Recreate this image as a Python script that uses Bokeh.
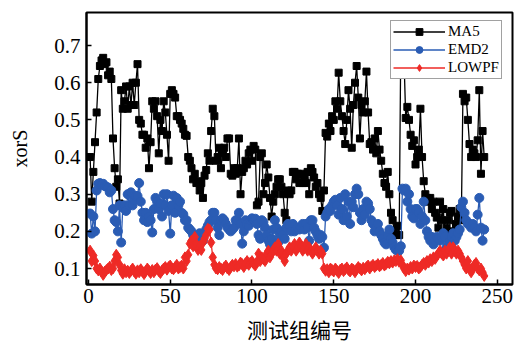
from bokeh.plotting import figure
from bokeh.models import FixedTicker, Range1d
from bokeh.embed import file_html
from bokeh.resources import INLINE

x_index = list(range(1, 243))

ma5 = [
    0.40, 0.28, 0.36, 0.44, 0.52, 0.61, 0.645, 0.66, 0.667, 0.65,
    0.655, 0.62, 0.63, 0.61, 0.45, 0.37, 0.32, 0.34, 0.275, 0.58,
    0.53, 0.55, 0.59, 0.53, 0.59, 0.54, 0.60, 0.54, 0.60, 0.65,
    0.50, 0.49, 0.46, 0.46, 0.425, 0.45, 0.37, 0.44, 0.55, 0.53,
    0.55, 0.51, 0.41, 0.50, 0.47, 0.55, 0.52, 0.46, 0.39, 0.57,
    0.58, 0.57, 0.56, 0.51, 0.51, 0.50, 0.49, 0.476, 0.46, 0.457,
    0.40, 0.39, 0.37, 0.34, 0.355, 0.33, 0.335, 0.31, 0.33, 0.29,
    0.35, 0.365, 0.41, 0.39, 0.47, 0.53, 0.51, 0.39, 0.40, 0.425,
    0.37, 0.41, 0.425, 0.40, 0.45, 0.45, 0.355, 0.35, 0.37, 0.355,
    0.37, 0.45, 0.30, 0.36, 0.37, 0.39, 0.38, 0.41, 0.42, 0.39,
    0.43, 0.42, 0.27, 0.28, 0.40, 0.41, 0.30, 0.33, 0.38, 0.345,
    0.29, 0.24, 0.28, 0.30, 0.32, 0.34, 0.34, 0.32, 0.30, 0.25,
    0.23, 0.31, 0.30, 0.31, 0.36, 0.36, 0.34, 0.355, 0.33, 0.355,
    0.33, 0.35, 0.33, 0.36, 0.30, 0.37, 0.36, 0.345, 0.32, 0.33,
    0.30, 0.29, 0.255, 0.31, 0.465, 0.455, 0.49, 0.47, 0.51, 0.50,
    0.55, 0.53, 0.627, 0.55, 0.51, 0.47, 0.435, 0.50, 0.58, 0.53,
    0.425, 0.54, 0.60, 0.645, 0.56, 0.45, 0.54, 0.52, 0.55, 0.63,
    0.52, 0.435, 0.44, 0.42, 0.45, 0.41, 0.47, 0.42, 0.39, 0.355,
    0.33, 0.32, 0.36, 0.30, 0.25, 0.23, 0.20, 0.19, 0.215, 0.19,
    0.71, 0.73, 0.66, 0.505, 0.535, 0.50, 0.46, 0.43, 0.445, 0.38,
    0.40, 0.42, 0.53, 0.40, 0.335, 0.30, 0.29, 0.28, 0.29, 0.26,
    0.28, 0.25, 0.237, 0.21, 0.28, 0.23, 0.26, 0.194, 0.21, 0.23,
    0.25, 0.255, 0.20, 0.18, 0.22, 0.24, 0.26, 0.23, 0.57, 0.55,
    0.56, 0.50, 0.435, 0.40, 0.42, 0.41, 0.40, 0.445, 0.58, 0.355,
    0.47, 0.40,
]

emd2 = [
    0.248, 0.194, 0.24, 0.20, 0.31, 0.328, 0.33, 0.325, 0.328, 0.322,
    0.32, 0.318, 0.305, 0.31, 0.26, 0.23, 0.225, 0.20, 0.27, 0.17,
    0.264, 0.27, 0.255, 0.30, 0.27, 0.305, 0.27, 0.285, 0.295, 0.295,
    0.33, 0.28, 0.25, 0.23, 0.25, 0.225, 0.24, 0.23, 0.197, 0.26,
    0.29, 0.28, 0.26, 0.275, 0.24, 0.30, 0.27, 0.30, 0.255, 0.194,
    0.27, 0.296, 0.25, 0.29, 0.27, 0.28, 0.25, 0.246, 0.23, 0.23,
    0.21, 0.205, 0.20, 0.19, 0.185, 0.18, 0.185, 0.195, 0.18, 0.175,
    0.195, 0.205, 0.215, 0.225, 0.23, 0.25, 0.25, 0.23, 0.21, 0.19,
    0.23, 0.235, 0.23, 0.22, 0.21, 0.205, 0.20, 0.205, 0.21, 0.23,
    0.23, 0.25, 0.22, 0.167, 0.20, 0.23, 0.22, 0.215, 0.23, 0.235,
    0.23, 0.234, 0.22, 0.19, 0.18, 0.23, 0.225, 0.21, 0.19, 0.175,
    0.165, 0.18, 0.205, 0.23, 0.21, 0.17, 0.19, 0.20, 0.19, 0.18,
    0.21, 0.22, 0.215, 0.20, 0.22, 0.20, 0.205, 0.21, 0.205, 0.21,
    0.22, 0.205, 0.22, 0.21, 0.175, 0.23, 0.23, 0.21, 0.20, 0.19,
    0.18, 0.19, 0.185, 0.156, 0.24, 0.25, 0.26, 0.255, 0.27, 0.28,
    0.285, 0.27, 0.245, 0.29, 0.26, 0.23, 0.30, 0.24, 0.28, 0.22,
    0.28, 0.265, 0.30, 0.315, 0.30, 0.25, 0.23, 0.26, 0.245, 0.28,
    0.275, 0.26, 0.23, 0.22, 0.20, 0.21, 0.22, 0.20, 0.19, 0.18,
    0.17, 0.165, 0.19, 0.205, 0.18, 0.17, 0.157, 0.15, 0.148, 0.148,
    0.16, 0.315, 0.31, 0.315, 0.28, 0.30, 0.26, 0.24, 0.235, 0.26,
    0.26, 0.25, 0.22, 0.24, 0.28, 0.23, 0.20, 0.185, 0.175, 0.185,
    0.165, 0.175, 0.185, 0.18, 0.175, 0.185, 0.195, 0.185, 0.157, 0.165,
    0.175, 0.185, 0.195, 0.175, 0.185, 0.195, 0.205, 0.265, 0.28, 0.25,
    0.23, 0.22, 0.22, 0.21, 0.22, 0.21, 0.20, 0.245, 0.29, 0.21,
    0.175, 0.205,
]

lowpf = [
    0.148, 0.12, 0.135, 0.12, 0.10, 0.095, 0.10, 0.092, 0.083, 0.092,
    0.096, 0.10, 0.105, 0.096, 0.10, 0.12, 0.137, 0.13, 0.11, 0.095,
    0.086, 0.098, 0.09, 0.094, 0.088, 0.094, 0.10, 0.092, 0.086, 0.095,
    0.09, 0.098, 0.092, 0.085, 0.093, 0.10, 0.094, 0.088, 0.096, 0.09,
    0.097, 0.101, 0.093, 0.088, 0.095, 0.10, 0.104, 0.097, 0.104, 0.108,
    0.10, 0.098, 0.104, 0.11, 0.10, 0.104, 0.108, 0.10, 0.13, 0.12,
    0.137, 0.167, 0.175, 0.16, 0.185, 0.166, 0.15, 0.16, 0.15, 0.17,
    0.18, 0.19, 0.207, 0.205, 0.17, 0.13, 0.11, 0.10, 0.098, 0.104,
    0.10, 0.096, 0.103, 0.108, 0.10, 0.096, 0.104, 0.11, 0.106, 0.112,
    0.105, 0.108, 0.116, 0.112, 0.104, 0.114, 0.12, 0.11, 0.116, 0.12,
    0.113, 0.108, 0.118, 0.14, 0.12, 0.13, 0.125, 0.12, 0.14, 0.148,
    0.13, 0.14, 0.148, 0.157, 0.148, 0.166, 0.14, 0.148, 0.13, 0.12,
    0.14, 0.148, 0.157, 0.148, 0.157, 0.166, 0.148, 0.157, 0.17, 0.16,
    0.148, 0.157, 0.166, 0.148, 0.157, 0.148, 0.14, 0.148, 0.157, 0.148,
    0.14, 0.148, 0.14, 0.10, 0.094, 0.098, 0.09, 0.10, 0.096, 0.092,
    0.10, 0.094, 0.088, 0.097, 0.10, 0.093, 0.098, 0.103, 0.096, 0.092,
    0.10, 0.097, 0.09, 0.098, 0.104, 0.10, 0.095, 0.102, 0.098, 0.104,
    0.108, 0.10, 0.106, 0.11, 0.104, 0.108, 0.112, 0.106, 0.11, 0.115,
    0.108, 0.112, 0.118, 0.114, 0.12, 0.116, 0.122, 0.12, 0.125, 0.118,
    0.122, 0.11, 0.10, 0.093, 0.10, 0.097, 0.104, 0.10, 0.108, 0.104,
    0.107, 0.10, 0.104, 0.11, 0.115, 0.11, 0.12, 0.116, 0.125, 0.12,
    0.13, 0.126, 0.135, 0.14, 0.148, 0.14, 0.135, 0.148, 0.14, 0.15,
    0.157, 0.14, 0.157, 0.148, 0.14, 0.148, 0.14, 0.13, 0.12, 0.11,
    0.10, 0.12, 0.10, 0.09, 0.10, 0.11, 0.115, 0.10, 0.095, 0.10,
    0.09, 0.08,
]

x_ticks = [0, 50, 100, 150, 200, 250]
y_ticks = [0.1, 0.2, 0.3, 0.4, 0.5, 0.6, 0.7]
x_title = "测试组编号"
y_title = "xorS"

BLACK = "#000000"
BLUE = "#2a5cb4"
RED = "#ee2a26"
SERIF = "Liberation Serif"

p = figure(width=514, height=348, output_backend="svg", toolbar_location=None,
           x_range=Range1d(-1.2, 259.3), y_range=Range1d(0.057, 0.789),
           min_border_left=86, min_border_right=2, min_border_top=12,
           min_border_bottom=64)

p.line(x_index, ma5, line_color=BLACK, line_width=1.3, legend_label="MA5")
p.scatter(x_index, ma5, marker="square", size=7, fill_color=BLACK,
          line_color=BLACK, legend_label="MA5")
p.line(x_index, emd2, line_color=BLUE, line_width=1.3, legend_label="EMD2")
p.scatter(x_index, emd2, marker="circle", size=9, fill_color=BLUE,
          line_color=BLUE, legend_label="EMD2")
p.line(x_index, lowpf, line_color=RED, line_width=1.3, legend_label="LOWPF")
p.scatter(x_index, lowpf, marker="diamond", size=11, fill_color=RED,
          line_color=RED, legend_label="LOWPF")

p.xgrid.visible = False
p.ygrid.visible = False
p.outline_line_color = BLACK
p.outline_line_width = 2
p.background_fill_color = "white"
p.border_fill_color = "white"

p.xaxis.ticker = FixedTicker(ticks=x_ticks)
p.yaxis.ticker = FixedTicker(ticks=y_ticks)

for ax in (p.xaxis[0], p.yaxis[0]):
    ax.axis_line_color = BLACK
    ax.axis_line_width = 2
    ax.major_tick_in = 5
    ax.major_tick_out = 0
    ax.major_tick_line_color = BLACK
    ax.major_tick_line_width = 1.5
    ax.minor_tick_line_color = None
    ax.major_label_text_font = SERIF
    ax.major_label_text_font_size = "21px"
    ax.major_label_text_color = BLACK
    ax.axis_label_text_font_style = "normal"
    ax.axis_label_text_color = BLACK

p.xaxis.axis_label = x_title
p.xaxis.axis_label_text_font = "Noto Sans CJK SC"
p.xaxis.axis_label_text_font_size = "21px"
p.xaxis.major_label_standoff = 4
p.xaxis.axis_label_standoff = 8

p.yaxis.axis_label = y_title
p.yaxis.axis_label_text_font = SERIF
p.yaxis.axis_label_text_font_size = "20px"
p.yaxis.major_label_standoff = 6
p.yaxis.axis_label_standoff = 20

lg = p.legend[0]
lg.location = (304, 205)
lg.margin = 0
lg.padding = 2
lg.spacing = 1
lg.glyph_width = 52
lg.glyph_height = 17
lg.label_height = 17
lg.label_standoff = 3
lg.label_text_font = SERIF
lg.label_text_font_size = "15px"
lg.label_text_color = BLACK
lg.border_line_color = "#444444"
lg.border_line_width = 1.5
lg.background_fill_color = "white"
lg.background_fill_alpha = 1.0

open("out.html", "w").write(file_html(p, INLINE))
